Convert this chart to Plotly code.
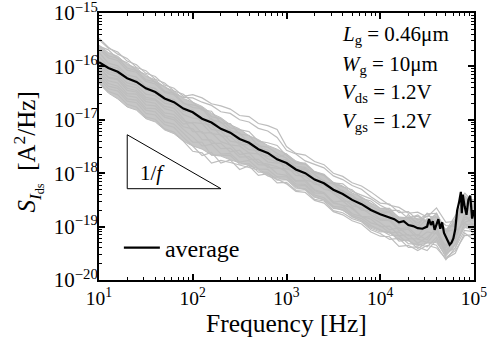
import plotly.graph_objects as go

# ---------------- data (log10 values) ----------------
log_freq = [1.0, 1.1, 1.2, 1.3, 1.4, 1.5, 1.6, 1.7, 1.8, 1.9,
            2.0, 2.1, 2.2, 2.3, 2.4, 2.5, 2.6, 2.7, 2.8, 2.9,
            3.0, 3.1, 3.2, 3.3, 3.4, 3.5, 3.6, 3.7, 3.8, 3.9,
            4.0, 4.1, 4.2, 4.3, 4.4, 4.5, 4.6, 4.7, 4.8, 4.9, 5.0]

# dense core of the grey bundle (upper / lower edge)
core_upper = [-15.60, -15.74, -15.81, -15.96, -16.03, -16.18, -16.25, -16.39, -16.46, -16.60,
              -16.67, -16.75, -16.88, -16.96, -17.09, -17.17, -17.30, -17.37, -17.48, -17.55,
              -17.64, -17.77, -17.83, -17.97, -18.03, -18.17, -18.24, -18.37, -18.44, -18.56,
              -18.66, -18.69, -18.82, -18.83, -18.85, -18.90, -18.80, -19.08, -18.90, -18.42, -18.55]
core_lower = [-16.32, -16.50, -16.61, -16.76, -16.82, -16.98, -17.04, -17.19, -17.26, -17.40,
              -17.49, -17.55, -17.66, -17.68, -17.75, -17.80, -17.86, -17.92, -18.03, -18.09,
              -18.12, -18.26, -18.31, -18.44, -18.50, -18.64, -18.70, -18.81, -18.89, -19.01,
              -19.08, -19.12, -19.24, -19.27, -19.36, -19.30, -19.30, -19.55, -19.35, -19.02, -19.05]

grey_01 = [-15.50, -15.66, -15.73, -15.90, -15.97, -16.13, -16.19, -16.35, -16.41, -16.56,
           -16.53, -16.59, -16.70, -16.74, -16.80, -16.92, -16.94, -17.07, -17.11, -17.18,
           -17.50, -17.63, -17.66, -17.78, -17.84, -18.00, -18.06, -18.18, -18.24, -18.35,
           -18.48, -18.60, -18.64, -18.75, -18.73, -18.82, -18.65, -18.92, -18.90, -18.47, -18.50]
grey_02 = [-15.62, -15.69, -15.86, -15.93, -16.08, -16.15, -16.30, -16.37, -16.51, -16.58,
           -16.59, -16.67, -16.73, -16.85, -16.88, -17.00, -17.04, -17.16, -17.21, -17.33,
           -17.57, -17.64, -17.77, -17.84, -17.90, -18.05, -18.12, -18.23, -18.30, -18.44,
           -18.56, -18.58, -18.74, -18.72, -18.88, -18.76, -18.75, -19.10, -18.87, -18.57, -18.60]
grey_03 = [-15.67, -15.84, -15.89, -16.07, -16.11, -16.28, -16.33, -16.49, -16.53, -16.70,
           -16.72, -16.77, -16.94, -16.98, -17.15, -17.19, -17.22, -17.40, -17.43, -17.48,
           -17.67, -17.82, -17.83, -17.99, -18.04, -18.20, -18.26, -18.31, -18.47, -18.52,
           -18.66, -18.66, -18.84, -18.82, -18.81, -18.90, -18.77, -19.15, -18.85, -18.62, -18.58]
grey_04 = [-15.82, -16.00, -16.03, -16.23, -16.25, -16.44, -16.46, -16.64, -16.66, -16.84,
           -16.82, -17.02, -16.98, -17.18, -17.19, -17.43, -17.40, -17.54, -17.56, -17.76,
           -17.74, -17.90, -17.91, -18.11, -18.14, -18.32, -18.32, -18.46, -18.50, -18.67,
           -18.73, -18.74, -18.94, -18.85, -19.03, -18.85, -18.90, -19.10, -19.05, -18.47, -18.65]
grey_05 = [-15.92, -16.10, -16.14, -16.31, -16.35, -16.52, -16.55, -16.69, -16.72, -16.90,
           -16.97, -16.99, -17.18, -17.21, -17.40, -17.43, -17.56, -17.58, -17.73, -17.79,
           -17.87, -18.04, -18.05, -18.21, -18.22, -18.38, -18.52, -18.54, -18.69, -18.71,
           -18.86, -18.86, -19.04, -19.02, -19.18, -18.95, -19.05, -19.40, -19.10, -18.92, -18.85]
grey_06 = [-16.02, -16.20, -16.23, -16.41, -16.45, -16.62, -16.63, -16.79, -16.84, -17.02,
           -17.07, -17.25, -17.24, -17.41, -17.47, -17.65, -17.62, -17.80, -17.83, -17.88,
           -17.97, -18.14, -18.13, -18.31, -18.36, -18.54, -18.52, -18.67, -18.81, -18.82,
           -18.93, -19.06, -19.02, -19.17, -19.15, -19.25, -19.00, -19.45, -19.25, -18.77, -19.00]
grey_07 = [-16.07, -16.27, -16.31, -16.51, -16.52, -16.72, -16.74, -16.92, -16.96, -17.13,
           -17.17, -17.37, -17.38, -17.54, -17.53, -17.70, -17.69, -17.84, -17.85, -18.01,
           -18.04, -18.20, -18.21, -18.37, -18.38, -18.55, -18.60, -18.76, -18.81, -18.93,
           -18.98, -19.12, -19.10, -19.23, -19.23, -19.30, -19.10, -19.52, -19.33, -18.97, -18.95]
grey_08 = [-16.17, -16.37, -16.41, -16.61, -16.63, -16.82, -16.85, -17.04, -17.08, -17.26,
           -17.42, -17.42, -17.66, -17.66, -17.67, -17.83, -17.82, -17.98, -17.98, -18.13,
           -18.12, -18.28, -18.29, -18.45, -18.50, -18.66, -18.68, -18.82, -18.89, -19.03,
           -19.10, -19.09, -19.27, -19.25, -19.41, -19.30, -19.35, -19.62, -19.40, -19.07, -19.10]
grey_09 = [-16.30, -16.47, -16.53, -16.71, -16.76, -16.95, -16.99, -17.17, -17.23, -17.40,
           -17.59, -17.62, -17.81, -17.76, -17.80, -17.85, -17.89, -17.94, -18.05, -18.11,
           -18.20, -18.34, -18.36, -18.51, -18.56, -18.72, -18.78, -18.89, -18.95, -19.10,
           -19.18, -19.19, -19.37, -19.35, -19.45, -19.35, -19.40, -19.60, -19.50, -19.12, -19.25]
grey_10 = [-15.74, -15.94, -15.99, -16.16, -16.20, -16.38, -16.41, -16.59, -16.62, -16.80,
           -16.85, -17.07, -17.10, -17.30, -17.31, -17.47, -17.46, -17.64, -17.68, -17.71,
           -17.64, -17.80, -17.81, -17.97, -18.02, -18.18, -18.20, -18.34, -18.41, -18.48,
           -18.60, -18.69, -18.70, -18.85, -18.78, -18.92, -18.75, -19.08, -18.80, -18.52, -18.65]
grey_11 = [-15.97, -16.14, -16.19, -16.36, -16.40, -16.58, -16.61, -16.75, -16.78, -16.98,
           -17.22, -17.22, -17.44, -17.44, -17.60, -17.57, -17.74, -17.74, -17.89, -17.91,
           -17.92, -17.97, -18.13, -18.17, -18.30, -18.34, -18.48, -18.61, -18.65, -18.78,
           -18.88, -18.89, -19.07, -19.05, -19.23, -19.10, -19.13, -19.35, -19.15, -18.87, -18.80]
grey_12 = [-15.62, -15.80, -15.85, -16.03, -16.08, -16.25, -16.29, -16.47, -16.50, -16.68,
           -16.77, -16.79, -17.00, -17.04, -17.21, -17.25, -17.44, -17.46, -17.65, -17.67,
           -18.00, -18.16, -18.16, -18.33, -18.38, -18.56, -18.60, -18.64, -18.81, -18.86,
           -19.00, -18.99, -19.17, -19.15, -19.31, -19.20, -19.05, -19.50, -19.20, -18.82, -18.90]
grey_13 = [-16.00, -16.22, -16.25, -16.45, -16.48, -16.66, -16.69, -16.87, -16.90, -17.08,
           -17.05, -17.07, -17.26, -17.28, -17.47, -17.49, -17.62, -17.64, -17.79, -17.81,
           -17.77, -17.94, -17.93, -18.11, -18.16, -18.34, -18.34, -18.49, -18.54, -18.70,
           -18.78, -18.72, -18.97, -18.77, -18.98, -18.75, -18.95, -19.05, -18.95, -18.42, -18.65]
grey_14 = [-16.12, -16.32, -16.37, -16.55, -16.58, -16.78, -16.79, -16.95, -17.00, -17.18,
           -17.32, -17.49, -17.46, -17.64, -17.63, -17.79, -17.76, -17.92, -17.93, -18.07,
           -18.07, -18.24, -18.23, -18.41, -18.46, -18.62, -18.64, -18.79, -18.85, -18.98,
           -19.06, -19.16, -19.17, -19.32, -19.33, -19.38, -19.20, -19.50, -19.40, -18.92, -19.15]
grey_15 = [-15.47, -15.64, -15.77, -15.85, -16.02, -16.08, -16.24, -16.31, -16.46, -16.52,
           -16.67, -16.82, -16.84, -17.06, -17.07, -17.27, -17.29, -17.49, -17.51, -17.63,
           -17.72, -17.87, -17.89, -18.03, -18.16, -18.20, -18.35, -18.41, -18.57, -18.62,
           -18.70, -18.72, -18.87, -18.82, -18.93, -18.80, -18.83, -18.98, -19.00, -18.37, -18.55]
grey_16 = [-16.22, -16.42, -16.46, -16.65, -16.68, -16.88, -16.91, -17.09, -17.14, -17.33,
           -17.49, -17.67, -17.61, -17.81, -17.75, -17.93, -17.86, -18.04, -18.01, -18.18,
           -18.17, -18.32, -18.31, -18.49, -18.52, -18.70, -18.74, -18.85, -18.91, -19.06,
           -19.13, -19.24, -19.22, -19.39, -19.38, -19.45, -19.25, -19.58, -19.45, -19.17, -19.15]

avg_log_freq = [1.0, 1.1, 1.2, 1.3, 1.4, 1.5, 1.6, 1.7, 1.8, 1.9,
                2.0, 2.1, 2.2, 2.3, 2.4, 2.5, 2.6, 2.7, 2.8, 2.9,
                3.0, 3.1, 3.2, 3.3, 3.4, 3.5, 3.6, 3.7, 3.8, 3.9,
                4.0, 4.05, 4.10, 4.15, 4.20, 4.25, 4.30, 4.35, 4.40, 4.45,
                4.50, 4.52, 4.54, 4.56, 4.58, 4.60, 4.62, 4.64, 4.66, 4.68,
                4.70, 4.72, 4.74, 4.76, 4.78, 4.80, 4.82, 4.84, 4.86, 4.87,
                4.88, 4.90, 4.92, 4.94, 4.96, 4.98, 5.00]
avg_log_psd = [-15.92, -16.03, -16.10, -16.22, -16.29, -16.41, -16.48, -16.60, -16.67, -16.79,
               -16.86, -16.98, -17.05, -17.17, -17.24, -17.36, -17.43, -17.55, -17.62, -17.74,
               -17.81, -17.93, -18.00, -18.12, -18.19, -18.31, -18.39, -18.50, -18.58, -18.69,
               -18.77, -18.80, -18.84, -18.86, -18.92, -18.90, -18.97, -18.99, -19.03, -19.04,
               -19.00, -18.86, -18.97, -18.90, -19.06, -18.95, -18.86, -19.04, -18.92, -19.12,
               -19.20, -19.28, -19.34, -19.30, -19.22, -19.05, -18.70, -18.55, -18.35, -18.75,
               -18.40, -18.62, -18.78, -18.50, -18.42, -18.85, -18.70]

# 1/f guide triangle corners (frequency, log10 PSD)
tri_freq = [20, 20, 200, 20]
tri_log_psd = [-17.28, -18.29, -18.29, -17.28]

x_tick_vals = [1e1, 1e2, 1e3, 1e4, 1e5]
x_tick_text = ["10<sup>1</sup>", "10<sup>2</sup>", "10<sup>3</sup>", "10<sup>4</sup>", "10<sup>5</sup>"]
y_tick_vals = [1e-20, 1e-19, 1e-18, 1e-17, 1e-16, 1e-15]
y_tick_text = ["10<sup>\u221220</sup>", "10<sup>\u221219</sup>", "10<sup>\u221218</sup>",
               "10<sup>\u221217</sup>", "10<sup>\u221216</sup>", "10<sup>\u221215</sup>"]

param_lines = ["<i>L</i><sub>g</sub> = 0.46\u03bcm",
               "<i>W</i><sub>g</sub> = 10\u03bcm",
               "<i>V</i><sub>ds</sub> = 1.2V",
               "<i>V</i><sub>gs</sub> = 1.2V"]

# ---------------- figure ----------------
FONT = "Liberation Serif"
GREY = "#BDBDBD"

freq = [10 ** v for v in log_freq]
grey_series = [grey_01, grey_02, grey_03, grey_04, grey_05, grey_06, grey_07, grey_08,
               grey_09, grey_10, grey_11, grey_12, grey_13, grey_14, grey_15, grey_16]

fig = go.Figure()
fig.add_trace(go.Scatter(x=freq, y=[10 ** v for v in core_lower], mode="lines",
                         line=dict(color=GREY, width=1), showlegend=False, hoverinfo="skip"))
fig.add_trace(go.Scatter(x=freq, y=[10 ** v for v in core_upper], mode="lines",
                         line=dict(color=GREY, width=1), fill="tonexty", fillcolor="#C6C6C6",
                         showlegend=False, hoverinfo="skip"))
for g in grey_series:
    fig.add_trace(go.Scatter(x=freq, y=[10 ** v for v in g], mode="lines",
                             line=dict(color=GREY, width=1.2), showlegend=False,
                             hoverinfo="skip"))

fig.add_trace(go.Scatter(x=[10 ** v for v in avg_log_freq], y=[10 ** v for v in avg_log_psd],
                         mode="lines", line=dict(color="black", width=2.2), name="average"))

fig.add_trace(go.Scatter(x=tri_freq, y=[10 ** v for v in tri_log_psd], mode="lines",
                         line=dict(color="black", width=1), showlegend=False, hoverinfo="skip"))

minor_x = [m * 10 ** e for e in range(1, 5) for m in range(2, 10)]
minor_y = [m * 10.0 ** e for e in range(-20, -15) for m in range(2, 10)]

axis_common = dict(type="log", showgrid=False, zeroline=False, showline=True,
                   linecolor="black", linewidth=2, mirror="allticks", automargin=False,
                   ticks="inside", ticklen=6, tickwidth=1.5, tickcolor="black",
                   ticklabeloverflow="allow")

fig.update_xaxes(range=[1, 5], tickmode="array", tickvals=x_tick_vals, ticktext=x_tick_text,
                 tickfont=dict(family=FONT, size=19.5, color="black"), ticklabelstandoff=0,
                 minor=dict(tickmode="array", tickvals=minor_x, ticks="inside", ticklen=3,
                            tickwidth=1, tickcolor="black", showgrid=False),
                 **axis_common)
fig.update_yaxes(range=[-20, -15], tickmode="array", tickvals=y_tick_vals, ticktext=y_tick_text,
                 tickfont=dict(family=FONT, size=21, color="black"), ticklabelstandoff=-5,
                 minor=dict(tickmode="array", tickvals=minor_y, ticks="inside", ticklen=3,
                            tickwidth=1, tickcolor="black", showgrid=False),
                 **axis_common)

annotations = []
param_y = [0.916, 0.807, 0.699, 0.590]
for txt, yy in zip(param_lines, param_y):
    annotations.append(dict(text=txt, xref="paper", yref="paper", x=0.643, y=yy,
                            xanchor="left", yanchor="middle", showarrow=False,
                            font=dict(family=FONT, size=21, color="black")))
annotations.append(dict(text="1/<i>f</i>", xref="paper", yref="paper", x=0.105, y=0.40,
                        xanchor="left", yanchor="middle", showarrow=False,
                        font=dict(family=FONT, size=21, color="black")))
annotations.append(dict(text="<i>S</i><sub><i>I</i><sub>ds</sub></sub>  [A<sup>2</sup>/Hz]",
                        xref="paper", yref="paper", x=-0.19, y=0.48, textangle=-90,
                        xanchor="center", yanchor="middle", showarrow=False,
                        font=dict(family=FONT, size=25, color="black")))
annotations.append(dict(text="Frequency [Hz]", xref="paper", yref="paper", x=0.50, y=-0.162,
                        xanchor="center", yanchor="middle", showarrow=False,
                        font=dict(family=FONT, size=25.5, color="black")))

fig.update_layout(width=489, height=346, margin=dict(l=99, r=15, t=13, b=66),
                  plot_bgcolor="white", paper_bgcolor="white",
                  font=dict(family=FONT, size=20, color="black"),
                  annotations=annotations,
                  legend=dict(x=0.053, y=0.12, xanchor="left", yanchor="middle",
                              itemwidth=36,
                              bgcolor="rgba(0,0,0,0)", borderwidth=0,
                              font=dict(family=FONT, size=24, color="black")))

fig.write_html("out.html", config={"displayModeBar": False},
               post_script="document.body.style.margin='0px';")
